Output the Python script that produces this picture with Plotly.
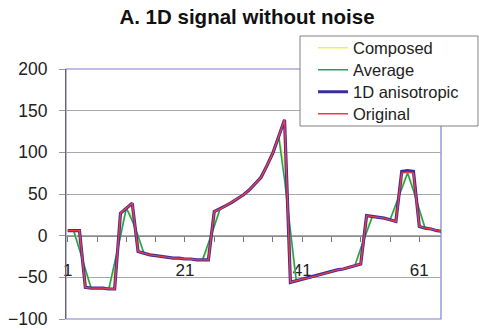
import plotly.graph_objects as go

# ---------------- data ----------------
index = list(range(1, 66))

original = [6, 6, 6, -62, -63, -63, -63, -64, -64, 27, 33, 39,
            -19, -21, -23, -24, -25, -26, -27, -27, -28, -28, -29, -29, -29,
            29, 32, 36, 40, 44, 49, 55, 62, 70, 84, 99, 119, 139,
            -56, -54, -52, -51, -49, -47, -45, -43, -41, -40, -38, -36, -34,
            24, 23, 22, 21, 19, 17, 75, 76, 75, 11, 9, 8, 6, 5]

anisotropic = [6, 6, 6, -62, -63, -63, -63, -64, -64, 27, 33, 39,
               -19, -21, -23, -24, -25, -26, -27, -27, -28, -28, -29, -29, -29,
               29, 32, 36, 40, 44, 49, 55, 62, 70, 84, 99, 119, 139,
               -56, -54, -52, -51, -49, -47, -45, -43, -41, -40, -38, -36, -34,
               24, 23, 22, 21, 19, 17, 77, 78, 77, 11, 9, 8, 6, 5]

average = [6, 6, -17, -40, -63, -63, -63, -64, -34, -1, 33, 18,
           0, -21, -23, -24, -25, -26, -27, -27, -28, -28, -29, -29, -10,
           11, 32, 36, 40, 44, 49, 55, 62, 72, 84, 101, 119, 67,
           10, -54, -52, -51, -49, -47, -45, -43, -41, -40, -38, -36, -15,
           4, 23, 22, 21, 19, 37, 56, 75, 54, 32, 9, 8, 6, 5]

composed = [6, 6, -11, -45, -63, -63, -63, -64, -41, 6, 33, 23,
            -5, -21, -23, -24, -25, -26, -27, -27, -28, -28, -29, -29, -15,
            15, 33, 37, 41, 45, 50, 56, 63, 72, 86, 102, 121, 85,
            -7, -54, -52, -51, -49, -47, -45, -43, -41, -40, -38, -36, -20,
            9, 23, 22, 21, 19, 32, 61, 76, 59, 27, 9, 8, 6, 5]

series_names = ["Composed", "Average", "1D anisotropic", "Original"]
x_tick_labels = [1, 21, 41, 61]
y_ticks = [-100, -50, 0, 50, 100, 150, 200]

FONT = "Liberation Sans, Arial, sans-serif"

# plot area in pixels: left 66, right 441, top 69, bottom 319
L, R, T, B = 66, 441, 69, 319
W, H = 479, 329


def px_x(p):
    return (p - L) / (R - L)


def px_y(p):
    return (B - p) / (B - T)


series = [composed, average, anisotropic, original]
colors = ["#eeee60", "#22a060", "#3a2f9a", "#f03a48"]
widths = [1.6, 1.6, 3.2, 1.4]
legend_ids = ["legend", "legend2", "legend3", "legend4"]
legend_rows = [48, 70, 92, 114]

fig = go.Figure()
for name, ys, c, w, lid in zip(series_names, series, colors, widths, legend_ids):
    fig.add_trace(go.Scatter(x=index, y=ys, mode="lines", name=name,
                             line=dict(color=c, width=w), legend=lid))

# plot-area border (blue) and legend box
fig.add_shape(type="rect", xref="paper", yref="paper", x0=0, x1=1, y0=0, y1=1,
              line=dict(color="#8080cc", width=1.2), layer="below")
fig.add_shape(type="rect", xref="paper", yref="paper",
              x0=px_x(300), x1=px_x(478), y0=px_y(126), y1=px_y(36),
              line=dict(color="#808080", width=1), fillcolor="white", layer="above")

legend_layout = {}
for lid, row in zip(legend_ids, legend_rows):
    legend_layout[lid] = dict(x=px_x(313), xref="paper", xanchor="left",
                              y=px_y(row), yref="paper", yanchor="middle",
                              bgcolor="rgba(0,0,0,0)", borderwidth=0,
                              font=dict(family=FONT, size=16.5, color="#222222"),
                              itemwidth=30)

fig.update_layout(
    width=W, height=H,
    margin=dict(l=L, r=W - R, t=T, b=H - B, autoexpand=False),
    paper_bgcolor="white", plot_bgcolor="white",
    font=dict(family=FONT, size=16, color="#222222"),
    title=dict(text="<b>A. 1D signal without noise</b>", x=247 / W, xref="container",
               xanchor="center", y=1 - 17 / H, yref="container", yanchor="middle",
               font=dict(family=FONT, size=20.5, color="#111111")),
    showlegend=True,
    xaxis=dict(range=[0.7, 64.7], anchor="free", position=1 / 3,
               tickmode="array", tickvals=x_tick_labels, ticktext=[str(v) for v in x_tick_labels],
               ticks="outside", ticklen=5, tickcolor="#777777", tickwidth=1,
               minor=dict(tick0=1, dtick=5, ticks="outside", ticklen=5, tickcolor="#777777",
                          showgrid=False),
               showline=True, linecolor="#8c8c8c", linewidth=1.2,
               showgrid=False, zeroline=False,
               ticklabelstandoff=14, layer="below traces", ticklabeloverflow="allow",
               tickfont=dict(family=FONT, size=17, color="#222222")),
    yaxis=dict(range=[-100, 200], tickmode="array", tickvals=y_ticks,
               ticks="outside", ticklen=6, tickcolor="#999999",
               showline=True, linecolor="#666666", linewidth=1.2,
               showgrid=True, gridcolor="#a8a8a8", gridwidth=1,
               zeroline=False, ticklabelstandoff=8, ticklabeloverflow="allow",
               tickfont=dict(family=FONT, size=17.5, color="#222222")),
    **legend_layout,
)

fig.write_html("out.html")
